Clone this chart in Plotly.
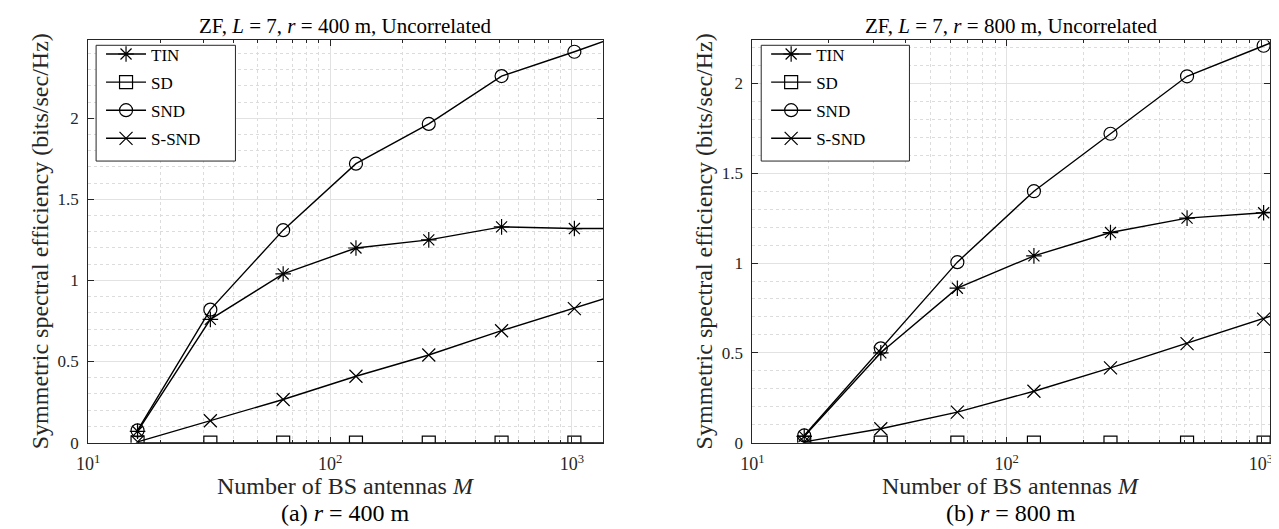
import plotly.graph_objects as go

# ---------------- data ----------------
M = [16, 32, 64, 128, 256, 512, 1024, 2048]

tin_400 = [0.07, 0.76, 1.04, 1.20, 1.25, 1.33, 1.32, 1.32]
sd_400 = [0, 0, 0, 0, 0, 0, 0, 0]
snd_400 = [0.075, 0.82, 1.31, 1.72, 1.965, 2.26, 2.41, 2.57]
ssnd_400 = [0.005, 0.135, 0.266, 0.409, 0.54, 0.69, 0.826, 0.97]

tin_800 = [0.035, 0.50, 0.86, 1.04, 1.17, 1.25, 1.28, 1.31]
sd_800 = [0, 0, 0, 0, 0, 0, 0, 0]
snd_800 = [0.04, 0.525, 1.005, 1.40, 1.72, 2.04, 2.21, 2.39]
ssnd_800 = [0.004, 0.077, 0.17, 0.286, 0.416, 0.551, 0.688, 0.83]

series_names = ["TIN", "SD", "SND", "S-SND"]
symbols = ["asterisk-open", "square-open", "circle-open", "x-thin-open"]

titles = ["ZF, <i>L</i> = 7, <i>r</i> = 400 m, Uncorrelated",
          "ZF, <i>L</i> = 7, <i>r</i> = 800 m, Uncorrelated"]
captions = ["(a) <i>r</i> = 400 m", "(b) <i>r</i> = 800 m"]
ytitle = "Symmetric spectral efficiency (bits/sec/Hz)"
xtitle = "Number of BS antennas <i>M</i>"
xtick_vals = [10, 100, 1000]
xtick_text = ["10<sup>1</sup>", "10<sup>2</sup>", "10<sup>3</sup>"]
ytick_vals = [0, 0.5, 1, 1.5, 2]
ytick_text = ["0", "0.5", "1", "1.5", "2"]

# ---------------- layout geometry ----------------
W, H = 1279, 529
FONT = "Liberation Serif"
AX = "#262626"
panels = [
    dict(x0=69, x1=590, xr=[1, 3.129], yr=[0, 2.48],
         data=[tin_400, sd_400, snd_400, ssnd_400], legend="legend",
         lbox=(77, 218)),
    dict(x0=741, x1=1265, xr=[1, 3.036], yr=[0, 2.24],
         data=[tin_800, sd_800, snd_800, ssnd_800], legend="legend2",
         lbox=(750, 900)),
]
ytop, ybot = 33, 443
lb_top, lb_bot = 38, 156

def px(x):
    return x / W

def py(y):
    return 1 - y / H

fig = go.Figure()
layout = dict(width=W, height=H, margin=dict(l=0, r=0, t=0, b=0),
              paper_bgcolor="white", plot_bgcolor="white",
              font=dict(family=FONT, color="black"), showlegend=True)

annotations = []
shapes = []
for i, p in enumerate(panels):
    xa = "x" if i == 0 else "x2"
    ya = "y" if i == 0 else "y2"
    for j, name in enumerate(series_names):
        fig.add_trace(go.Scatter(
            x=M, y=p["data"][j], name=name, mode="lines+markers",
            xaxis=xa, yaxis=ya, legend=p["legend"], legendgroup=f"g{i}{j}",
            line=dict(color="black", width=1.4),
            marker=dict(symbol=symbols[j], size=13, color="black",
                        line=dict(color="black", width=1.2)),
        ))
    axis_common = dict(showline=True, linecolor=AX, linewidth=1, mirror="allticks",
                       ticks="inside", ticklen=6, tickcolor=AX,
                       showgrid=True, gridcolor="#e2e2e2", gridwidth=1,
                       zeroline=False)
    xkey = "xaxis" if i == 0 else "xaxis2"
    ykey = "yaxis" if i == 0 else "yaxis2"
    layout[xkey] = dict(type="log", domain=[px(p["x0"]), px(p["x1"])], range=p["xr"],
                        anchor=ya, tickvals=xtick_vals, ticktext=xtick_text,
                        tickfont=dict(family=FONT, size=18, color=AX),
                        ticklabelstandoff=5,
                        minor=dict(ticks="inside", ticklen=3, tickcolor=AX,
                                   showgrid=True, gridcolor="#dcdcdc", griddash="dot",
                                   tickvals=[20, 30, 40, 50, 60, 70, 80, 90,
                                             200, 300, 400, 500, 600, 700, 800, 900]),
                        **axis_common)
    layout[ykey] = dict(domain=[py(ybot), py(ytop)], range=p["yr"], anchor=xa,
                        tickvals=ytick_vals, ticktext=ytick_text,
                        tickfont=dict(family=FONT, size=17, color=AX),
                        ticklabelstandoff=5,
                        minor=dict(dtick=0.1, showgrid=True, gridcolor="#dcdcdc",
                                   griddash="dot", ticks=""),
                        **axis_common)
    cx = px((p["x0"] + p["x1"]) / 2)
    common_ann = dict(xref="paper", yref="paper", showarrow=False,
                      xanchor="center", yanchor="middle")
    annotations.append(dict(text=titles[i], x=cx, y=py(18),
                            font=dict(family=FONT, size=21, color="black"), **common_ann))
    annotations.append(dict(text=xtitle, x=cx, y=py(487),
                            font=dict(family=FONT, size=24, color=AX), **common_ann))
    annotations.append(dict(text=captions[i], x=cx, y=py(515),
                            font=dict(family=FONT, size=24, color="black"), **common_ann))
    annotations.append(dict(text=ytitle, x=px(p["x0"] - 49), y=py((ytop + ybot) / 2),
                            textangle=-90,
                            font=dict(family=FONT, size=24, color=AX), **common_ann))
    # legend frame
    shapes.append(dict(type="rect", xref="paper", yref="paper", layer="above",
                       x0=px(p["lbox"][0]), x1=px(p["lbox"][1]),
                       y0=py(lb_bot), y1=py(lb_top),
                       fillcolor="white", line=dict(color=AX, width=1)))
    layout[p["legend"]] = dict(x=px(p["lbox"][0] + 5), y=py(lb_top - 9),
                               xanchor="left", yanchor="top",
                               xref="paper", yref="paper",
                               bgcolor="rgba(0,0,0,0)", borderwidth=0,
                               traceorder="grouped", tracegroupgap=3,
                               font=dict(family=FONT, size=17, color="black"),
                               itemwidth=40)

layout["annotations"] = annotations
layout["shapes"] = shapes
fig.update_layout(**layout)
fig.write_html("out.html")
